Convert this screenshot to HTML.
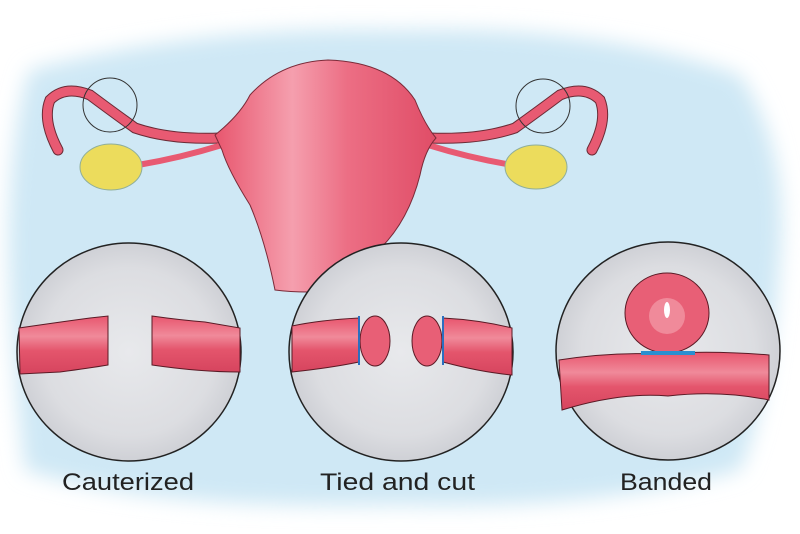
<!DOCTYPE html>
<html><head><style>
html,body{margin:0;padding:0;background:#fff;width:800px;height:534px;overflow:hidden}
</style></head><body>
<svg width="800" height="534" viewBox="0 0 800 534" xmlns="http://www.w3.org/2000/svg">
<defs>
<filter id="blur" x="-20%" y="-20%" width="140%" height="140%"><feGaussianBlur stdDeviation="10"/></filter>
<radialGradient id="cg" cx="50%" cy="50%" r="55%"><stop offset="0" stop-color="#e8e9ec"/><stop offset="0.7" stop-color="#dcdde1"/><stop offset="1" stop-color="#c9cbd1"/></radialGradient>
<linearGradient id="tube" x1="0" y1="0" x2="0" y2="1"><stop offset="0" stop-color="#e8566e"/><stop offset="0.35" stop-color="#f08a9a"/><stop offset="0.6" stop-color="#e4556c"/><stop offset="1" stop-color="#d6445e"/></linearGradient>
<linearGradient id="ut" x1="0" y1="0" x2="1" y2="0"><stop offset="0" stop-color="#e8566e"/><stop offset="0.35" stop-color="#f59fae"/><stop offset="0.6" stop-color="#ec6e84"/><stop offset="1" stop-color="#e04d67"/></linearGradient>
</defs>
<path d="M30 70 Q200 25 400 30 Q600 25 740 75 Q790 150 780 260 Q770 400 740 470 Q600 510 400 505 Q150 510 25 470 Q5 300 10 200 Q15 110 30 70Z" fill="#cfe8f5" filter="url(#blur)"/>
<!-- tubes -->
<path d="M220 138 Q170 140 135 128 Q110 110 90 95 Q65 85 50 100 Q42 120 58 150" fill="none" stroke="#6a2a35" stroke-width="11" stroke-linecap="round"/>
<path d="M220 138 Q170 140 135 128 Q110 110 90 95 Q65 85 50 100 Q42 120 58 150" fill="none" stroke="#e85a72" stroke-width="9" stroke-linecap="round"/>
<path d="M222 145 Q180 158 138 165" fill="none" stroke="#e85a72" stroke-width="6"/>
<path d="M430 138 Q480 140 515 128 Q540 110 560 95 Q585 85 600 100 Q608 120 592 150" fill="none" stroke="#6a2a35" stroke-width="11" stroke-linecap="round"/>
<path d="M430 138 Q480 140 515 128 Q540 110 560 95 Q585 85 600 100 Q608 120 592 150" fill="none" stroke="#e85a72" stroke-width="9" stroke-linecap="round"/>
<path d="M428 145 Q470 158 512 165" fill="none" stroke="#e85a72" stroke-width="6"/>
<ellipse cx="111" cy="167" rx="31" ry="23" fill="#ecdc5c" stroke="#8fae9a"/>
<ellipse cx="536" cy="167" rx="31" ry="22" fill="#ecdc5c" stroke="#8fae9a"/>
<circle cx="110" cy="105" r="27" fill="none" stroke="#333" stroke-width="1"/>
<circle cx="543" cy="106" r="27" fill="none" stroke="#333" stroke-width="1"/>
<!-- uterus -->
<path d="M215 135 Q240 115 250 95 Q280 62 328 60 Q390 62 415 100 Q425 125 436 138 Q425 150 420 175 Q405 235 360 265 Q320 280 308 292 Q290 292 275 290 Q265 240 250 205 Q228 170 222 150 Z" fill="url(#ut)" stroke="#7a2a38" stroke-width="1"/>
<!-- circles -->
<ellipse cx="129" cy="352" rx="112" ry="109" fill="url(#cg)" stroke="#222" stroke-width="1.5"/>
<ellipse cx="401" cy="352" rx="112" ry="109" fill="url(#cg)" stroke="#222" stroke-width="1.5"/>
<ellipse cx="668" cy="351" rx="112" ry="109" fill="url(#cg)" stroke="#222" stroke-width="1.5"/>
<!-- cauterized -->
<path d="M19 328 Q60 322 90 318 L108 316 L108 365 Q90 368 60 372 L20 374Z" fill="url(#tube)" stroke="#5a1a25"/>
<path d="M152 316 Q180 320 205 322 L240 328 L240 372 Q200 372 152 365Z" fill="url(#tube)" stroke="#5a1a25"/>
<!-- tied -->
<path d="M292 326 Q320 320 359 318 L359 362 Q330 368 292 372Z" fill="url(#tube)" stroke="#5a1a25"/>
<ellipse cx="375" cy="341" rx="15" ry="25" fill="#e85f76" stroke="#5a1a25"/>
<ellipse cx="427" cy="341" rx="15" ry="25" fill="#e85f76" stroke="#5a1a25"/>
<path d="M443 318 Q480 320 512 328 L512 375 Q480 372 443 362Z" fill="url(#tube)" stroke="#5a1a25"/>
<line x1="359" y1="316" x2="359" y2="365" stroke="#2a6fc0" stroke-width="2"/>
<line x1="443" y1="316" x2="443" y2="365" stroke="#2a6fc0" stroke-width="2"/>
<!-- banded -->
<path d="M559 360 Q610 352 660 354 Q710 350 769 355 L769 400 Q720 390 668 396 Q620 392 562 410Z" fill="url(#tube)" stroke="#5a1a25"/>
<ellipse cx="667" cy="313" rx="42" ry="40" fill="#e85f76" stroke="#5a1a25"/>
<circle cx="667" cy="316" r="18" fill="#f08a9a"/>
<ellipse cx="667" cy="310" rx="3" ry="8" fill="#fff"/>
<rect x="641" y="351" width="54" height="4" fill="#2a8fd0"/>
<g font-family="'Liberation Sans',sans-serif" font-size="24" fill="#222">
<text x="62" y="490" textLength="132" lengthAdjust="spacingAndGlyphs">Cauterized</text>
<text x="320" y="490" textLength="155" lengthAdjust="spacingAndGlyphs">Tied and cut</text>
<text x="620" y="490" textLength="92" lengthAdjust="spacingAndGlyphs">Banded</text>
</g>
</svg>
</body></html>
